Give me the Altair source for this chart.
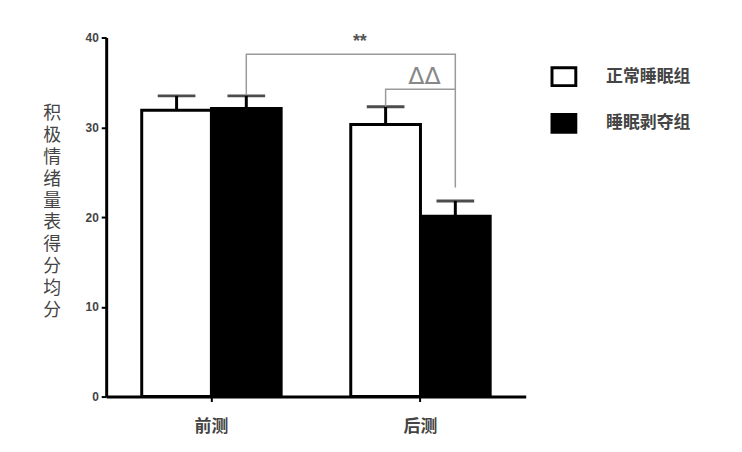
import altair as alt
import pandas as pd

groups = ["前测", "后测"]
series = ["正常睡眠组", "睡眠剥夺组"]
means = [31.9, 32.1, 30.3, 20.1]
errs = [1.6, 1.4, 2.0, 1.7]

rows = []
i = 0
for g in groups:
    for s in series:
        rows.append({"group": g, "series": s, "mean": means[i], "hi": means[i] + errs[i]})
        i += 1
bars_df = pd.DataFrame(rows)

# significance brackets
br_group = ["前测", "前测", "后测", "后测", "后测", "后测", "后测"]
br_series = ["睡眠剥夺组", "睡眠剥夺组", "睡眠剥夺组", "睡眠剥夺组", "正常睡眠组", "正常睡眠组", "睡眠剥夺组"]
br_y = [33.6, 38.15, 38.15, 23.3, 32.3, 34.25, 34.25]
br_path = ["a", "a", "a", "a", "b", "b", "b"]
br_order = [0, 1, 2, 3, 0, 1, 2]
br_df = pd.DataFrame({"group": br_group, "series": br_series, "y": br_y,
                      "path": br_path, "ord": br_order})

lab_df = pd.DataFrame({"group": ["后测", "后测"], "series": ["正常睡眠组", "正常睡眠组"],
                       "y": [38.5, 34.3], "text": ["**", "ΔΔ"], "kind": ["s", "t"]})

CJK = "Noto Sans CJK SC"

xenc = alt.X("group:N", sort=groups,
             scale=alt.Scale(paddingInner=0.333, paddingOuter=0.17),
             axis=alt.Axis(title=None, labelAngle=0, labelFont=CJK, labelFontSize=17,
                           labelFontWeight="bold", labelColor="#444", labelPadding=17,
                           domainColor="black", domainWidth=3, tickColor="black",
                           tickWidth=2, tickSize=5))
xoff = alt.XOffset("series:N", sort=series, scale=alt.Scale(paddingInner=0, paddingOuter=0))
yscale = alt.Scale(domain=[0, 40])

bars = alt.Chart(bars_df).mark_bar(stroke="black", strokeWidth=3).encode(
    x=xenc,
    xOffset=xoff,
    y=alt.Y("mean:Q", scale=yscale,
            axis=alt.Axis(values=[0, 10, 20, 30, 40], grid=False,
                          title=list("积极情绪量表得分均分"), titleAngle=0,
                          titleFont=CJK, titleFontSize=18, titleFontWeight="normal",
                          titleColor="#444", titleLineHeight=22, titleAlign="center",
                          titleBaseline="top", titleX=-55, titleY=68,
                          labelFont="Liberation Sans", labelFontSize=12,
                          labelFontWeight="bold", labelColor="#444", labelPadding=3,
                          domainColor="black", domainWidth=3, tickColor="black",
                          tickWidth=2, tickSize=5)),
    fill=alt.Fill("series:N", sort=series,
                  scale=alt.Scale(domain=series, range=["white", "black"]),
                  legend=alt.Legend(title=None, orient="none", legendX=448, legendY=26,
                                    symbolType="M-1,-0.75H1V0.75H-1Z", symbolSize=576,
                                    symbolStrokeColor="black", symbolStrokeWidth=3,
                                    labelFont=CJK, labelFontSize=17, labelColor="#444",
                                    labelFontWeight="bold",
                                    labelOffset=29, rowPadding=16, padding=0)),
)

err = alt.Chart(bars_df).mark_rule(color="black", strokeWidth=3).encode(
    x=alt.X("group:N", sort=groups), xOffset=xoff,
    y=alt.Y("mean:Q", scale=yscale), y2="hi:Q")

caps = alt.Chart(bars_df).mark_tick(color="black", thickness=3, size=38, orient="horizontal").encode(
    x=alt.X("group:N", sort=groups), xOffset=xoff,
    y=alt.Y("hi:Q", scale=yscale))

brackets = alt.Chart(br_df).mark_line(color="#9a9a9a", strokeWidth=1.5).encode(
    x=alt.X("group:N", sort=groups), xOffset=xoff,
    y=alt.Y("y:Q", scale=yscale), detail="path:N", order="ord:Q")

star = alt.Chart(lab_df[lab_df.kind == "s"]).mark_text(
    font="Liberation Sans", fontSize=18, fontWeight="bold", color="#555", dx=-26, baseline="bottom"
).encode(x=alt.X("group:N", sort=groups), xOffset=xoff,
         y=alt.Y("y:Q", scale=yscale), text="text:N")

tri = alt.Chart(lab_df[lab_df.kind == "t"]).mark_text(
    font="DejaVu Sans", fontSize=24, color="#888", baseline="bottom", dx=4
).encode(x=alt.X("group:N", sort=groups),
         y=alt.Y("y:Q", scale=yscale), text="text:N")

chart = alt.layer(bars, err, caps, brackets, star, tri).properties(
    width=423, height=362,
    autosize=alt.AutoSizeParams(type="none"),
    padding={"left": 99, "top": 28, "right": 210, "bottom": 40},
).configure(background="white").configure_view(stroke=None)

chart.save("out.html", embed_options={"renderer": "svg", "actions": False})
